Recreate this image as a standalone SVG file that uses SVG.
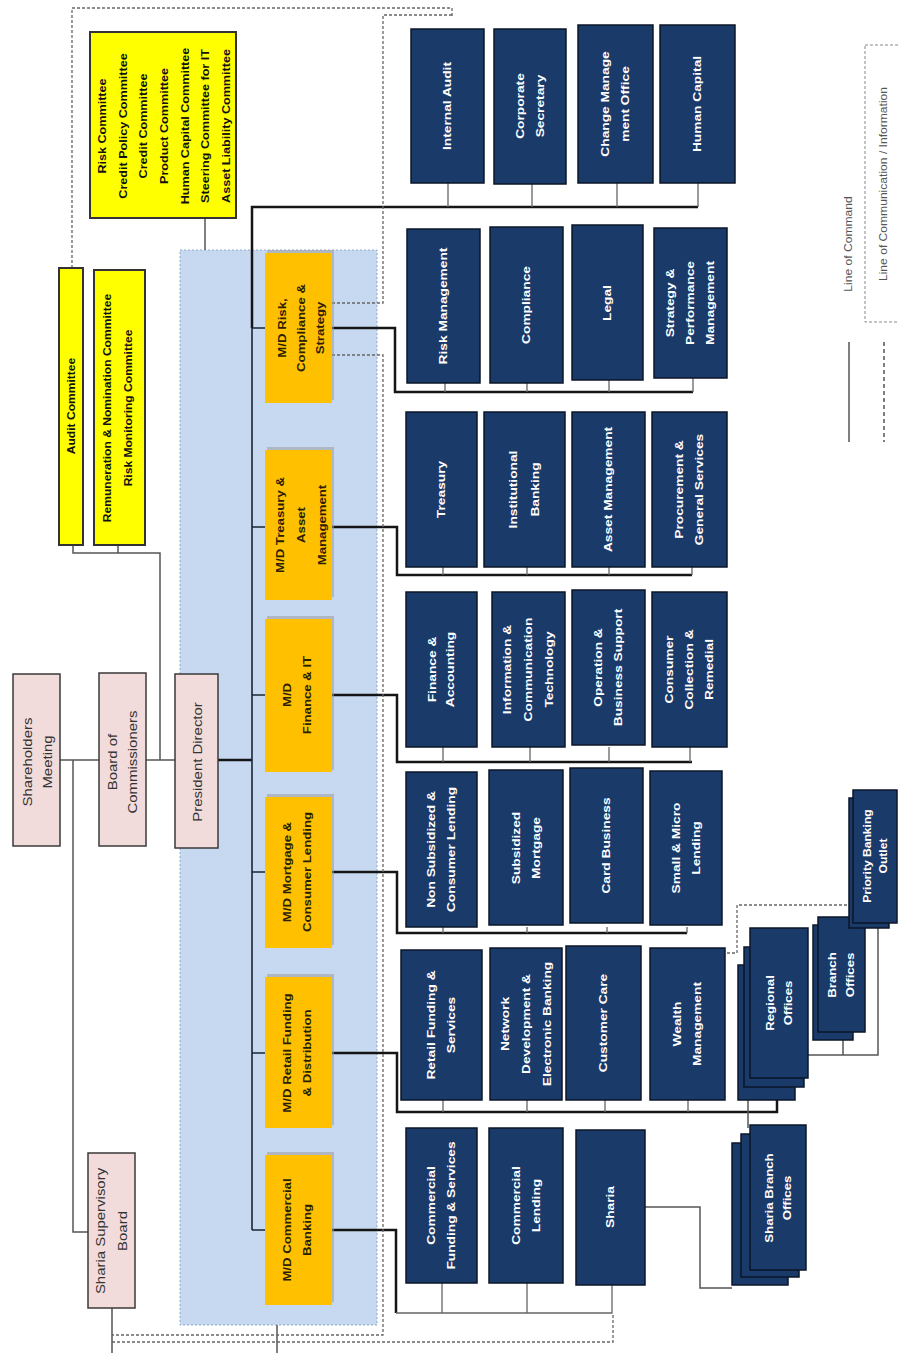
<svg xmlns="http://www.w3.org/2000/svg" width="899" height="1353" viewBox="0 0 899 1353">
<style>
  text{font-family:"Liberation Sans",Arial,sans-serif;dominant-baseline:central;text-anchor:middle}
  .pink{fill:#f2dcdb;stroke:#3a3a3a;stroke-width:1.5}
  .yel{fill:#ffff00;stroke:#333;stroke-width:2}
  .org{fill:#ffc000;stroke:none}
  .shd{fill:#9c9c9c;opacity:.55}
  .unit{fill:#1a3a6a;stroke:#0c1628;stroke-width:1.5}
  .tp{font-size:13px;fill:#333}
  .ty{font-size:10.5px;font-weight:bold;fill:#111}
  .to{font-size:11px;font-weight:bold;fill:#2a2000}
  .tu{font-size:11px;font-weight:bold;fill:#fff}
  .tl{font-size:11px;fill:#555}
  .thin{fill:none;stroke:#555;stroke-width:1.5}
  .tick{fill:none;stroke:#666;stroke-width:1.3}
  .thick{fill:none;stroke:#151515;stroke-width:2.5}
  .spine{fill:none;stroke:#1c2433;stroke-width:1.6}
  .dash{fill:none;stroke:#666;stroke-width:1.3;stroke-dasharray:3 2}
</style>

<!-- blue management region -->
<g id="management-region">
  <rect x="180" y="250" width="197" height="1075" fill="#c6d9f0" stroke="#8fa9c9" stroke-width="1" stroke-dasharray="2 2"/>
</g>

<g id="connectors">
  <!-- solid line of command (governance) -->
  <path class="thin" d="M60,760 H99"/>
  <path class="thin" d="M146,760 H175"/>
  <path class="thin" d="M73,760 V1232 H88"/>
  <path class="thin" d="M160,760 V553 H73 V545"/>
  <path class="thin" d="M118,553 V545"/>
  <path class="thin" d="M205,218 V250"/>
  <path class="thin" d="M112,1308 V1353"/>
  <path class="thin" d="M277,1325 V1353"/>
  <!-- president to spine -->
  <path class="thick" d="M218,760 H252"/>
  <path class="thick" d="M252,328 V207 H698"/>
  <path class="spine" d="M252,328 V1230"/>
  <path class="spine" d="M252,328 H265 M252,527 H265 M252,695 H265 M252,872 H265 M252,1053 H265 M252,1230 H265"/>
  <!-- group A ticks -->
  <path class="tick" d="M448,183 V207 M532,184 V207 M617,183 V207 M698,183 V207"/>
  <!-- group B -->
  <path class="thick" d="M332,328 H395 V392 H693"/>
  <path class="tick" d="M445,383 V392 M527,383 V392 M609,380 V392 M693,378 V392"/>
  <!-- group C -->
  <path class="thick" d="M332,527 H397 V575 H692"/>
  <path class="tick" d="M443,567 V575 M527,567 V575 M609,567 V575 M692,567 V575"/>
  <!-- group D -->
  <path class="thick" d="M332,695 H397 V762 H692"/>
  <path class="tick" d="M443,747 V762 M530,747 V762 M609,747 V762 M690,747 V762"/>
  <!-- group E -->
  <path class="thick" d="M332,872 H397 V933 H687"/>
  <path class="tick" d="M443,927 V933 M527,927 V933 M607,927 V933 M687,927 V933"/>
  <!-- group F -->
  <path class="thick" d="M332,1053 H397 V1112 H777 V1100"/>
  <path class="tick" d="M443,1100 V1112 M527,1100 V1112 M605,1100 V1112 M688,1100 V1112"/>
  <!-- group G -->
  <path class="thick" d="M332,1230 H396 V1313"/>
  <path class="tick" d="M396,1313 H612 V1283 M442,1283 V1313 M527,1283 V1313"/>
  <!-- offices -->
  <path class="thin" d="M645,1207 H700 V1288 H732"/>
  <path class="thin" d="M748,1100 V1128"/>
  <path class="thin" d="M808,1055 H878 V925 M843,1040 V1055"/>
  <!-- line of communication / information -->
  <path class="dash" d="M72,268 V8 H452 V17"/>
  <path class="dash" d="M332,303 H383 V15 H452"/>
  <path class="dash" d="M332,355 H383 V1335 H112"/>
  <path class="dash" d="M112,1342 H613 V1313"/>
  <path class="dash" d="M727,953 H737 V905 H852"/>
</g>

<!-- governance nodes -->
<g id="shareholders-meeting">
  <rect class="pink" x="13" y="674" width="47" height="172"/>
  <text class="tp" transform="translate(37,762) rotate(-90) scale(1.15,1)"><tspan x="0" y="-10">Shareholders</tspan><tspan x="0" y="10">Meeting</tspan></text>
</g>
<g id="board-of-commissioners">
  <rect class="pink" x="99" y="673" width="47" height="173"/>
  <text class="tp" transform="translate(122,762) rotate(-90) scale(1.15,1)"><tspan x="0" y="-10">Board of</tspan><tspan x="0" y="10">Commissioners</tspan></text>
</g>
<g id="president-director">
  <rect class="pink" x="175" y="674" width="43" height="174"/>
  <text class="tp" transform="translate(197,762) rotate(-90) scale(1.15,1)"><tspan x="0" y="0">President Director</tspan></text>
</g>
<g id="sharia-supervisory-board">
  <rect class="pink" x="88" y="1153" width="47" height="155"/>
  <text class="tp" transform="translate(111,1231) rotate(-90) scale(1.15,1)"><tspan x="0" y="-11">Sharia Supervisory</tspan><tspan x="0" y="11">Board</tspan></text>
</g>

<g id="audit-committee">
  <rect class="yel" x="59" y="268" width="24" height="277"/>
  <text class="ty" transform="translate(71,406) rotate(-90) scale(1.15,1)"><tspan x="0" y="0">Audit Committee</tspan></text>
</g>
<g id="remuneration-committees">
  <rect class="yel" x="94" y="270" width="51" height="275"/>
  <text class="ty" transform="translate(118,408) rotate(-90) scale(1.15,1)"><tspan x="0" y="-11">Remuneration &amp; Nomination Committee</tspan><tspan x="0" y="10">Risk Monitoring Committee</tspan></text>
</g>
<g id="board-committees">
  <rect class="yel" x="90" y="32" width="146" height="186"/>
  <text class="ty" transform="translate(164,126) rotate(-90) scale(1.2,1)"><tspan x="0" y="-62">Risk Committee</tspan><tspan x="0" y="-41">Credit Policy Committee</tspan><tspan x="0" y="-21">Credit Committee</tspan><tspan x="0" y="0">Product Committee</tspan><tspan x="0" y="21">Human Capital Committee</tspan><tspan x="0" y="41">Steering Committee for IT</tspan><tspan x="0" y="62">Asset Liability Committee</tspan></text>
</g>

<!-- managing directors -->
<g id="md-risk">
  <rect class="shd" x="267" y="250" width="67" height="150"/>
  <rect class="org" x="265" y="253" width="67" height="150"/>
  <text class="to" transform="translate(301,328) rotate(-90) scale(1.2,1)"><tspan x="0" y="-19">M/D Risk,</tspan><tspan x="0" y="0">Compliance &amp;</tspan><tspan x="0" y="19">Strategy</tspan></text>
</g>
<g id="md-treasury">
  <rect class="shd" x="267" y="447" width="67" height="150"/>
  <rect class="org" x="265" y="450" width="67" height="150"/>
  <text class="to" transform="translate(301,525) rotate(-90) scale(1.2,1)"><tspan x="0" y="-21">M/D Treasury &amp;</tspan><tspan x="0" y="0">Asset</tspan><tspan x="0" y="21">Management</tspan></text>
</g>
<g id="md-finance">
  <rect class="shd" x="267" y="616" width="67" height="154"/>
  <rect class="org" x="265" y="619" width="67" height="153"/>
  <text class="to" transform="translate(297,695) rotate(-90) scale(1.2,1)"><tspan x="0" y="-10">M/D</tspan><tspan x="0" y="10">Finance &amp; IT</tspan></text>
</g>
<g id="md-mortgage">
  <rect class="shd" x="267" y="794" width="67" height="151"/>
  <rect class="org" x="265" y="797" width="67" height="151"/>
  <text class="to" transform="translate(297,872) rotate(-90) scale(1.2,1)"><tspan x="0" y="-10">M/D Mortgage &amp;</tspan><tspan x="0" y="10">Consumer Lending</tspan></text>
</g>
<g id="md-retail">
  <rect class="shd" x="267" y="974" width="67" height="151"/>
  <rect class="org" x="265" y="977" width="67" height="151"/>
  <text class="to" transform="translate(297,1053) rotate(-90) scale(1.2,1)"><tspan x="0" y="-10">M/D Retail Funding</tspan><tspan x="0" y="10">&amp; Distribution</tspan></text>
</g>
<g id="md-commercial">
  <rect class="shd" x="267" y="1152" width="67" height="150"/>
  <rect class="org" x="265" y="1155" width="67" height="150"/>
  <text class="to" transform="translate(297,1230) rotate(-90) scale(1.2,1)"><tspan x="0" y="-10">M/D Commercial</tspan><tspan x="0" y="10">Banking</tspan></text>
</g>

<!-- group A -->
<g id="internal-audit"><rect class="unit" x="411" y="29" width="73" height="154"/>
  <text class="tu" transform="translate(447.5,106) rotate(-90) scale(1.25,1)"><tspan x="0" y="0">Internal Audit</tspan></text></g>
<g id="corporate-secretary"><rect class="unit" x="494" y="29" width="72" height="155"/>
  <text class="tu" transform="translate(530,106) rotate(-90) scale(1.25,1)"><tspan x="0" y="-10">Corporate</tspan><tspan x="0" y="10">Secretary</tspan></text></g>
<g id="change-management-office"><rect class="unit" x="578" y="25" width="75" height="158"/>
  <text class="tu" transform="translate(615.5,104) rotate(-90) scale(1.25,1)"><tspan x="0" y="-10">Change Manage</tspan><tspan x="0" y="10">ment Office</tspan></text></g>
<g id="human-capital"><rect class="unit" x="660" y="25" width="75" height="158"/>
  <text class="tu" transform="translate(697.5,104) rotate(-90) scale(1.25,1)"><tspan x="0" y="0">Human Capital</tspan></text></g>

<!-- group B -->
<g id="risk-management"><rect class="unit" x="407" y="229" width="73" height="154"/>
  <text class="tu" transform="translate(443.5,306) rotate(-90) scale(1.25,1)"><tspan x="0" y="0">Risk Management</tspan></text></g>
<g id="compliance"><rect class="unit" x="490" y="227" width="73" height="156"/>
  <text class="tu" transform="translate(526.5,305) rotate(-90) scale(1.25,1)"><tspan x="0" y="0">Compliance</tspan></text></g>
<g id="legal"><rect class="unit" x="572" y="225" width="71" height="155"/>
  <text class="tu" transform="translate(607.5,303) rotate(-90) scale(1.25,1)"><tspan x="0" y="0">Legal</tspan></text></g>
<g id="strategy-performance"><rect class="unit" x="654" y="228" width="73" height="150"/>
  <text class="tu" transform="translate(690.5,303) rotate(-90) scale(1.25,1)"><tspan x="0" y="-20">Strategy &amp;</tspan><tspan x="0" y="0">Performance</tspan><tspan x="0" y="20">Management</tspan></text></g>

<!-- group C -->
<g id="treasury"><rect class="unit" x="406" y="412" width="71" height="155"/>
  <text class="tu" transform="translate(441.5,489.5) rotate(-90) scale(1.25,1)"><tspan x="0" y="0">Treasury</tspan></text></g>
<g id="institutional-banking"><rect class="unit" x="484" y="412" width="81" height="155"/>
  <text class="tu" transform="translate(524.5,489.5) rotate(-90) scale(1.25,1)"><tspan x="0" y="-11">Institutional</tspan><tspan x="0" y="11">Banking</tspan></text></g>
<g id="asset-management"><rect class="unit" x="572" y="412" width="73" height="155"/>
  <text class="tu" transform="translate(608.5,489.5) rotate(-90) scale(1.25,1)"><tspan x="0" y="0">Asset Management</tspan></text></g>
<g id="procurement"><rect class="unit" x="652" y="412" width="75" height="155"/>
  <text class="tu" transform="translate(689.5,489.5) rotate(-90) scale(1.25,1)"><tspan x="0" y="-10">Procurement &amp;</tspan><tspan x="0" y="10">General Services</tspan></text></g>

<!-- group D -->
<g id="finance-accounting"><rect class="unit" x="406" y="592" width="71" height="155"/>
  <text class="tu" transform="translate(441.5,669.5) rotate(-90) scale(1.25,1)"><tspan x="0" y="-9">Finance &amp;</tspan><tspan x="0" y="9">Accounting</tspan></text></g>
<g id="ict"><rect class="unit" x="492" y="592" width="73" height="155"/>
  <text class="tu" transform="translate(528.5,669.5) rotate(-90) scale(1.25,1)"><tspan x="0" y="-21">Information &amp;</tspan><tspan x="0" y="0">Communication</tspan><tspan x="0" y="21">Technology</tspan></text></g>
<g id="operation-business-support"><rect class="unit" x="572" y="590" width="73" height="155"/>
  <text class="tu" transform="translate(608.5,667.5) rotate(-90) scale(1.25,1)"><tspan x="0" y="-10">Operation &amp;</tspan><tspan x="0" y="10">Business Support</tspan></text></g>
<g id="consumer-collection"><rect class="unit" x="652" y="592" width="75" height="155"/>
  <text class="tu" transform="translate(689.5,669.5) rotate(-90) scale(1.25,1)"><tspan x="0" y="-20">Consumer</tspan><tspan x="0" y="0">Collection &amp;</tspan><tspan x="0" y="20">Remedial</tspan></text></g>

<!-- group E -->
<g id="non-subsidized"><rect class="unit" x="406" y="772" width="71" height="155"/>
  <text class="tu" transform="translate(441.5,849.5) rotate(-90) scale(1.25,1)"><tspan x="0" y="-10">Non Subsidized &amp;</tspan><tspan x="0" y="10">Consumer Lending</tspan></text></g>
<g id="subsidized-mortgage"><rect class="unit" x="489" y="770" width="74" height="155"/>
  <text class="tu" transform="translate(526,848) rotate(-90) scale(1.25,1)"><tspan x="0" y="-10">Subsidized</tspan><tspan x="0" y="10">Mortgage</tspan></text></g>
<g id="card-business"><rect class="unit" x="570" y="768" width="73" height="155"/>
  <text class="tu" transform="translate(606.5,845.5) rotate(-90) scale(1.25,1)"><tspan x="0" y="0">Card Business</tspan></text></g>
<g id="small-micro-lending"><rect class="unit" x="650" y="771" width="72" height="154"/>
  <text class="tu" transform="translate(686,848) rotate(-90) scale(1.25,1)"><tspan x="0" y="-10">Small &amp; Micro</tspan><tspan x="0" y="10">Lending</tspan></text></g>

<!-- group F -->
<g id="retail-funding"><rect class="unit" x="401" y="950" width="81" height="150"/>
  <text class="tu" transform="translate(441.5,1025) rotate(-90) scale(1.25,1)"><tspan x="0" y="-10">Retail Funding &amp;</tspan><tspan x="0" y="10">Services</tspan></text></g>
<g id="network-development"><rect class="unit" x="490" y="948" width="72" height="152"/>
  <text class="tu" transform="translate(526,1024) rotate(-90) scale(1.25,1)"><tspan x="0" y="-21">Network</tspan><tspan x="0" y="0">Development &amp;</tspan><tspan x="0" y="21">Electronic Banking</tspan></text></g>
<g id="customer-care"><rect class="unit" x="566" y="946" width="75" height="154"/>
  <text class="tu" transform="translate(603.5,1023) rotate(-90) scale(1.25,1)"><tspan x="0" y="0">Customer Care</tspan></text></g>
<g id="wealth-management"><rect class="unit" x="650" y="948" width="75" height="152"/>
  <text class="tu" transform="translate(687.5,1024) rotate(-90) scale(1.25,1)"><tspan x="0" y="-10">Wealth</tspan><tspan x="0" y="10">Management</tspan></text></g>

<!-- group G -->
<g id="commercial-funding"><rect class="unit" x="406" y="1128" width="71" height="155"/>
  <text class="tu" transform="translate(441.5,1205.5) rotate(-90) scale(1.25,1)"><tspan x="0" y="-10">Commercial</tspan><tspan x="0" y="10">Funding &amp; Services</tspan></text></g>
<g id="commercial-lending"><rect class="unit" x="489" y="1128" width="74" height="155"/>
  <text class="tu" transform="translate(526,1205.5) rotate(-90) scale(1.25,1)"><tspan x="0" y="-10">Commercial</tspan><tspan x="0" y="10">Lending</tspan></text></g>
<g id="sharia"><rect class="unit" x="576" y="1130" width="69" height="155"/>
  <text class="tu" transform="translate(610.5,1207) rotate(-90) scale(1.25,1)"><tspan x="0" y="0">Sharia</tspan></text></g>

<!-- offices -->
<g id="regional-offices">
  <rect class="unit" x="738" y="965" width="57" height="135"/>
  <rect class="unit" x="744" y="947" width="60" height="140"/>
  <rect class="unit" x="750" y="928" width="58" height="150"/>
  <text class="tu" transform="translate(779,1003) rotate(-90) scale(1.2,1)"><tspan x="0" y="-9">Regional</tspan><tspan x="0" y="9">Offices</tspan></text>
</g>
<g id="branch-offices">
  <rect class="unit" x="813" y="925" width="40" height="115"/>
  <rect class="unit" x="818" y="917" width="47" height="115"/>
  <text class="tu" transform="translate(841,975) rotate(-90) scale(1.2,1)"><tspan x="0" y="-9">Branch</tspan><tspan x="0" y="9">Offices</tspan></text>
</g>
<g id="priority-banking-outlet">
  <rect class="unit" x="849" y="798" width="40" height="130"/>
  <rect class="unit" x="853" y="790" width="44" height="133"/>
  <text class="tu" transform="translate(875,856) rotate(-90) scale(1.1,1)"><tspan x="0" y="-8">Priority Banking</tspan><tspan x="0" y="8">Outlet</tspan></text>
</g>
<g id="sharia-branch-offices">
  <rect class="unit" x="732" y="1143" width="56" height="142"/>
  <rect class="unit" x="741" y="1134" width="58" height="143"/>
  <rect class="unit" x="750" y="1125" width="56" height="145"/>
  <text class="tu" transform="translate(778,1198) rotate(-90) scale(1.2,1)"><tspan x="0" y="-9">Sharia Branch</tspan><tspan x="0" y="9">Offices</tspan></text>
</g>

<!-- legend -->
<g id="legend">
  <text class="tl" transform="translate(848,244) rotate(-90) scale(1.1,1)">Line of Command</text>
  <rect x="865" y="45" width="40" height="277" fill="none" stroke="#888" stroke-width="1" stroke-dasharray="3 2"/>
  <text class="tl" transform="translate(883,184) rotate(-90) scale(1.1,1)">Line of Communication / Information</text>
  <path d="M849,342 V442" stroke="#555" stroke-width="1.5" fill="none"/>
  <path d="M884,342 V442" stroke="#555" stroke-width="1.5" fill="none" stroke-dasharray="4 3"/>
</g>
</svg>
